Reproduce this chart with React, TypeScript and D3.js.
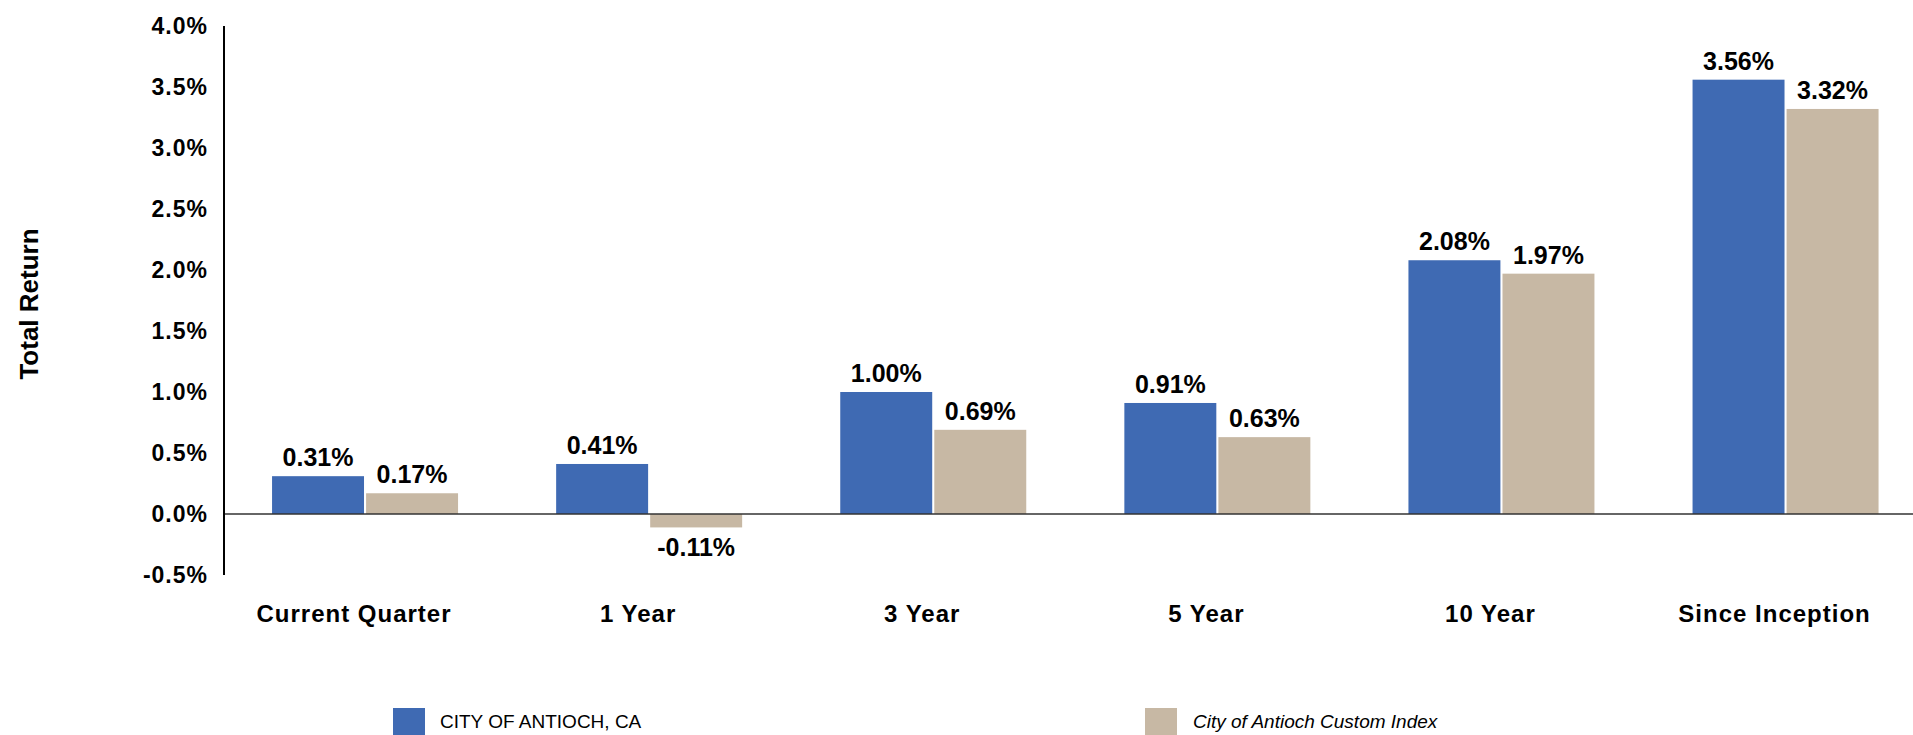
import React from "react";
import * as d3 from "d3";

const categories = ["Current Quarter", "1 Year", "3 Year", "5 Year", "10 Year", "Since Inception"];
const seriesNames = ["CITY OF ANTIOCH, CA", "City of Antioch Custom Index"];
const cityValues = [0.31, 0.41, 1.0, 0.91, 2.08, 3.56];
const indexValues = [0.17, -0.11, 0.69, 0.63, 1.97, 3.32];
const yTicks = [-0.5, 0, 0.5, 1.0, 1.5, 2.0, 2.5, 3.0, 3.5, 4.0];
const colors = ["#3F6AB3", "#C7B8A4"];

const W = 1913;
const H = 735;
const FONT = "'Liberation Sans', Arial, Helvetica, sans-serif";

const pct = (v: number, digits: number) => (v < 0 ? "-" : "") + Math.abs(v).toFixed(digits) + "%";

export default function App() {
  const axisX = 223;
  const step = 284.1;
  const x0 = d3.scaleBand<string>().domain(categories).range([axisX, axisX + step * categories.length]).padding(0);
  const groupW = 186;
  const x1 = d3.scaleBand<string>().domain(seriesNames).range([0, groupW]).paddingInner(0.022);
  const y = d3.scaleLinear().domain([-0.5, 4.0]).range([575, 26]);
  const seriesValues = [cityValues, indexValues];
  const zeroY = y(0);

  return (
    <svg width={W} height={H} style={{ position: "absolute", left: 0, top: 0, background: "#fff" }} fontFamily={FONT}>
      <text
        transform={`translate(29,304) rotate(-90)`}
        textAnchor="middle"
        dominantBaseline="central"
        fontSize={26}
        fontWeight="bold"
        fill="#000"
      >
        Total Return
      </text>
      {yTicks.map((t) => (
        <text
          key={t}
          x={208}
          y={y(t)}
          dy="0.36em"
          textAnchor="end"
          fontSize={23}
          fontWeight="bold"
          letterSpacing={1}
          fill="#000"
        >
          {pct(t, 1)}
        </text>
      ))}
      {categories.map((c, i) => {
        const gx = (x0(c) as number) + (step - groupW) / 2;
        return seriesNames.map((s, si) => {
          const v = seriesValues[si][i];
          const bx = gx + (x1(s) as number);
          const bw = x1.bandwidth();
          const top = Math.min(y(v), zeroY);
          const h = Math.abs(y(v) - zeroY);
          return (
            <g key={c + s}>
              <rect x={bx} y={top} width={bw} height={h} fill={colors[si]} />
              <text
                x={bx + bw / 2}
                y={v >= 0 ? y(v) - 10 : y(v) + 29}
                textAnchor="middle"
                fontSize={25}
                fontWeight="bold"
                fill="#000"
              >
                {pct(v, 2)}
              </text>
            </g>
          );
        });
      })}
      <line x1={axisX} x2={W} y1={zeroY} y2={zeroY} stroke="#333" strokeWidth={1.5} />
      <line x1={axisX + 1} x2={axisX + 1} y1={y(4.0)} y2={y(-0.5)} stroke="#000" strokeWidth={2} />
      {categories.map((c) => (
        <text
          key={c}
          x={(x0(c) as number) + step / 2 - 11}
          y={622}
          textAnchor="middle"
          fontSize={24}
          fontWeight="bold"
          letterSpacing={1}
          fill="#000"
        >
          {c}
        </text>
      ))}
      <rect x={393} y={708} width={32} height={30} fill={colors[0]} />
      <text x={440} y={728} fontSize={19} fill="#000">
        {seriesNames[0]}
      </text>
      <rect x={1145} y={708} width={32} height={30} fill={colors[1]} />
      <text x={1193} y={728} fontSize={19} fontStyle="italic" fill="#000">
        {seriesNames[1]}
      </text>
    </svg>
  );
}
